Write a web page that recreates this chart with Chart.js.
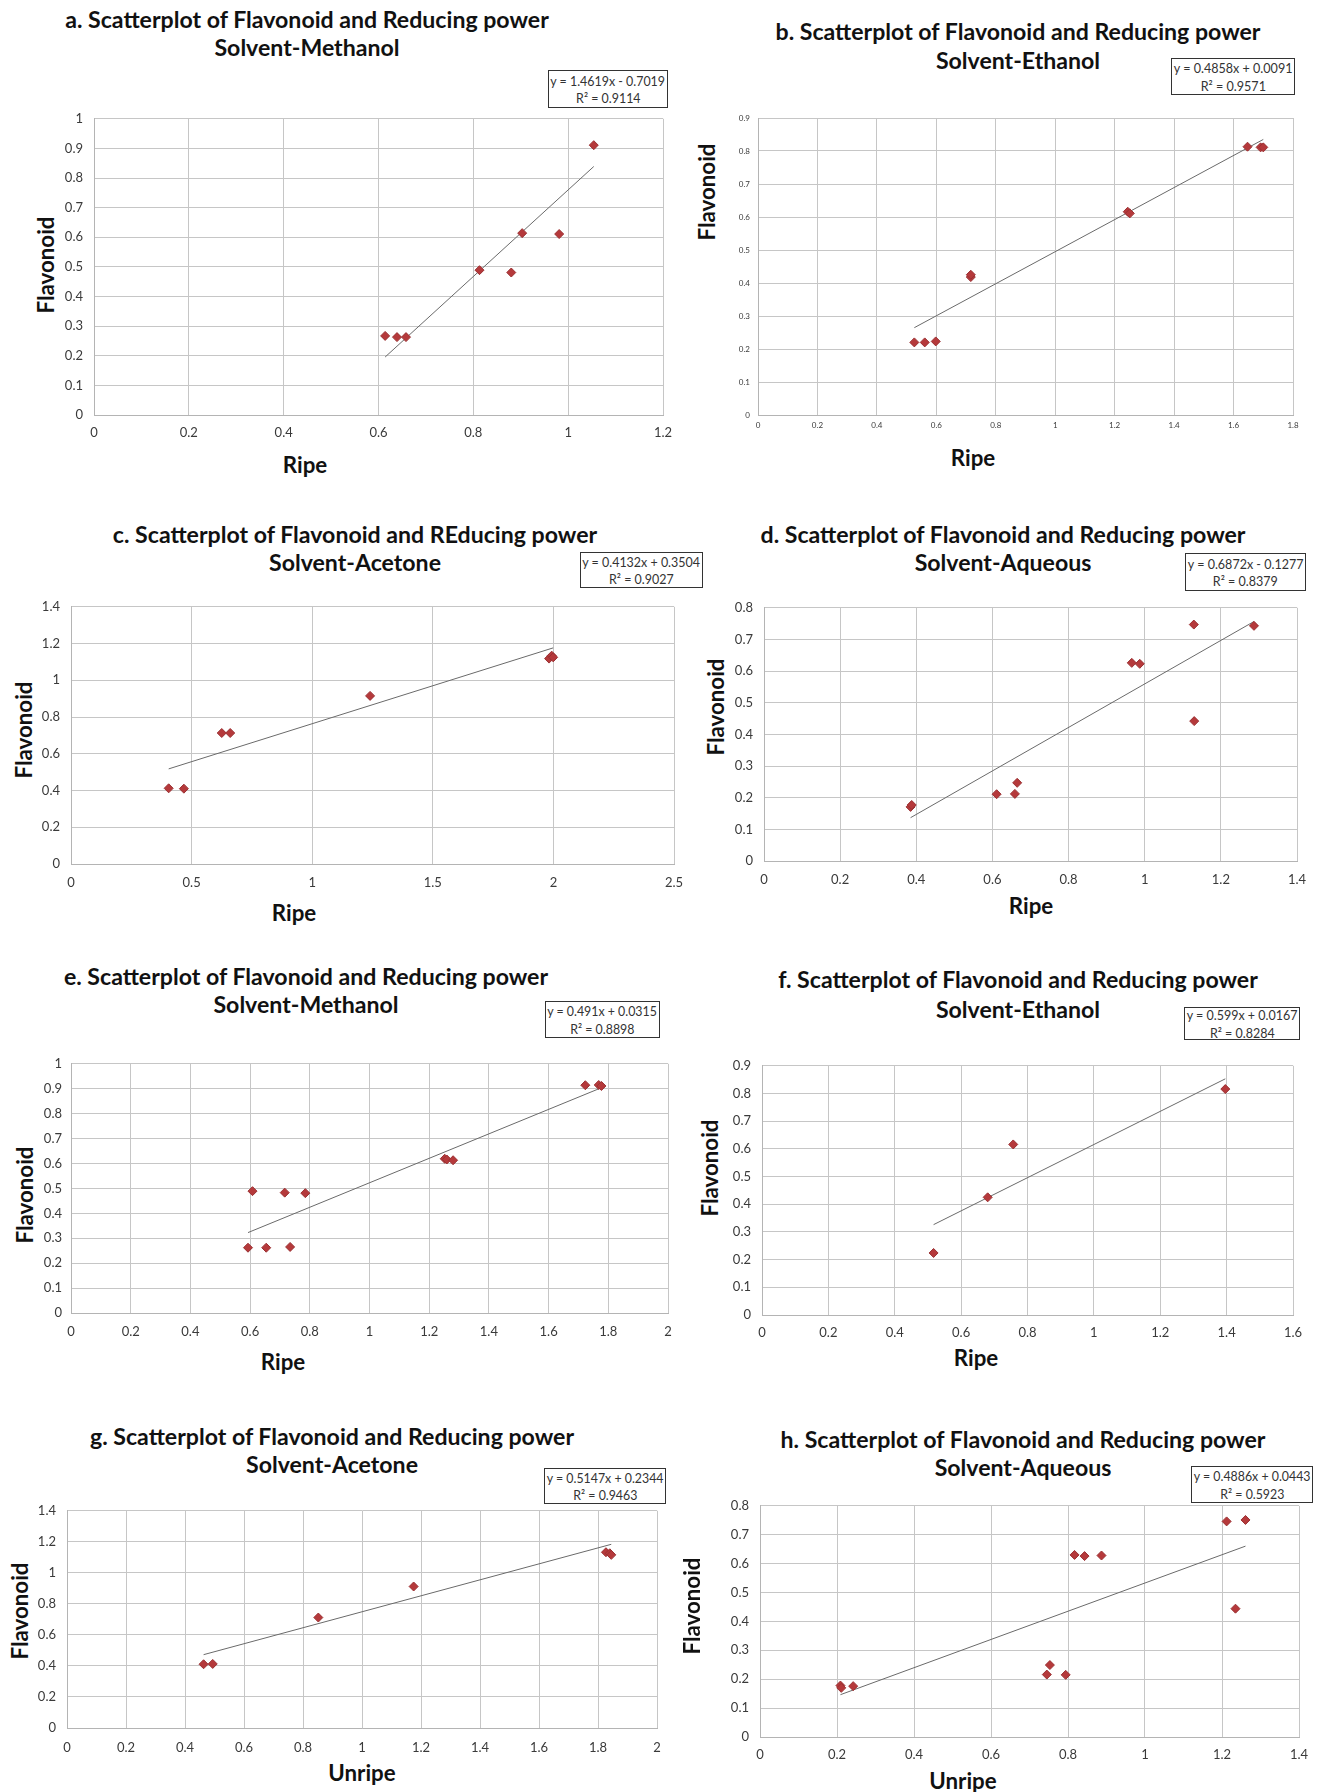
<!DOCTYPE html>
<html><head><meta charset="utf-8">
<script src="https://cdn.jsdelivr.net/npm/chart.js@4.4.1/dist/chart.umd.min.js"></script>
<style>
html,body{margin:0;padding:0;background:#fff;}
body{width:1322px;height:1792px;position:relative;overflow:hidden;font-family:Lato,'Open Sans',sans-serif;}
canvas{position:absolute;}
.t{position:absolute;white-space:nowrap;font-weight:bold;color:#111;line-height:1;}
.yt{position:absolute;white-space:nowrap;font-weight:bold;color:#111;line-height:1;}
.eq{position:absolute;box-sizing:border-box;border:1.5px solid #333;background:#fff;color:#333;text-align:center;display:flex;flex-direction:column;justify-content:center;align-items:center;}
.eq div{white-space:nowrap;line-height:1.22;}
</style></head>
<body>
<script>
// ---------- data ----------
const aX = [0.614,0.639,0.658,0.813,0.880,0.903,0.981,1.054];
const aY = [0.267,0.263,0.263,0.489,0.481,0.614,0.611,0.911];
const bX = [0.526,0.561,0.598,0.716,0.716,1.244,1.251,1.647,1.691,1.700];
const bY = [0.220,0.220,0.223,0.418,0.425,0.616,0.611,0.813,0.811,0.811];
const cX = [0.405,0.468,0.625,0.660,1.240,1.982,1.993,1.999];
const cY = [0.412,0.410,0.713,0.713,0.915,1.118,1.134,1.125];
const dX = [0.385,0.388,0.611,0.659,0.665,0.966,0.987,1.129,1.130,1.287];
const dY = [0.171,0.177,0.211,0.212,0.247,0.626,0.623,0.747,0.442,0.743];
const eX = [0.593,0.608,0.654,0.716,0.734,0.785,1.252,1.259,1.280,1.723,1.768,1.777];
const eY = [0.262,0.489,0.262,0.483,0.265,0.481,0.619,0.616,0.613,0.914,0.915,0.911];
const fX = [0.517,0.680,0.757,1.396];
const fY = [0.224,0.425,0.616,0.816];
const gX = [0.463,0.494,0.852,1.175,1.827,1.840,1.845];
const gY = [0.411,0.413,0.712,0.912,1.133,1.126,1.116];
const hX = [0.209,0.211,0.242,0.745,0.753,0.794,0.817,0.843,0.887,1.212,1.235,1.261];
const hY = [0.178,0.170,0.176,0.216,0.249,0.215,0.630,0.626,0.628,0.746,0.444,0.751];

const titleLine1 = [
  "a. Scatterplot of Flavonoid and Reducing power",
  "b. Scatterplot of Flavonoid and Reducing power",
  "c. Scatterplot of Flavonoid and REducing power",
  "d. Scatterplot of Flavonoid and Reducing power",
  "e. Scatterplot of Flavonoid and Reducing power",
  "f. Scatterplot of Flavonoid and Reducing power",
  "g. Scatterplot of Flavonoid and Reducing power",
  "h. Scatterplot of Flavonoid and Reducing power"];
const titleLine2 = ["Solvent-Methanol","Solvent-Ethanol","Solvent-Acetone","Solvent-Aqueous",
  "Solvent-Methanol","Solvent-Ethanol","Solvent-Acetone","Solvent-Aqueous"];
const xTitles = ["Ripe","Ripe","Ripe","Ripe","Ripe","Ripe","Unripe","Unripe"];
const yTitle = "Flavonoid";
const slopes = [1.4619,0.4858,0.4132,0.6872,0.491,0.599,0.5147,0.4886];
const intercepts = [-0.7019,0.0091,0.3504,-0.1277,0.0315,0.0167,0.2344,0.0443];
const r2 = ["0.9114","0.9571","0.9027","0.8379","0.8898","0.8284","0.9463","0.5923"];
const xMax = [1.2,1.8,2.5,1.4,2,1.6,2,1.4];
const xStep = [0.2,0.2,0.5,0.2,0.2,0.2,0.2,0.2];
const yMax = [1,0.9,1.4,0.8,1,0.9,1.4,0.8];
const yStep = [0.1,0.1,0.2,0.1,0.1,0.1,0.2,0.1];

const seriesX = [aX,bX,cX,dX,eX,fX,gX,hX];
const seriesY = [aY,bY,cY,dY,eY,fY,gY,hY];

// ---------- layout (pixels) ----------
const plots = [
  {l:94,t:115,r:663,b:415},{l:758,t:118,r:1293,b:415},
  {l:71,t:603,r:674,b:864},{l:764,t:604,r:1297,b:861},
  {l:71,t:1062,r:668,b:1313},{l:762,t:1062,r:1293,b:1315},
  {l:67,t:1507,r:657,b:1728},{l:760,t:1502,r:1299,b:1737}];
const titlePos = [[307,20,48],[1018,32,61],[355,535,563],[1003,535,563],
  [306,977,1005],[1018,980,1010],[332,1437,1465],[1023,1440,1468]];
const eqBox = [[548,70,668,108],[1171,58,1295,95],[580,552,703,588],[1185,553,1306,591],
  [545,1001,660,1038],[1184,1007,1300,1040],[544,1468,666,1504],[1191,1466,1313,1503]];
const yTitlePos = [[46,265],[707,192],[24,730],[716,707],[25,1195],[710,1168],[20,1611],[692,1606]];
const xTitlePos = [[305,465],[973,458],[294,913],[1031,906],[283,1362],[976,1358],[362,1773],[963,1781]];
const tickFont = [13,8,13,13,13,13,13,13];
const xTickPad = [10,6,11,11,11,10,12,10];
const yTickPad = [11,8,11,11,9,11,11,11];

const meas = document.createElement('canvas').getContext('2d');
const FAM = "Lato, 'Open Sans', sans-serif";
function textW(text, weight, size){
  meas.font = weight + ' ' + size + 'px ' + FAM;
  return meas.measureText(text).width;
}
const TITLE_SIZE = 22, AXIS_SIZE = 22, EQ_SIZE = 14;
const titleScale = 484 / textW(titleLine1[0], 'bold', TITLE_SIZE);
const axisScale = 97 / textW(yTitle, 'bold', AXIS_SIZE);

function fmt(v){ return String(Number(v.toFixed(4))); }
function eqText(i){
  const s = slopes[i], c = intercepts[i];
  return 'y = ' + fmt(s) + 'x ' + (c < 0 ? '- ' : '+ ') + fmt(Math.abs(c));
}

function addDiv(cls, text, x, y, size, tf){
  const d = document.createElement('div');
  d.className = cls; d.textContent = text;
  d.style.left = x + 'px'; d.style.top = y + 'px'; d.style.fontSize = size + 'px';
  d.style.transform = tf;
  document.body.appendChild(d); return d;
}

const YW = 60, XH = 40, PT = 15, PR = 25;

for (let i = 0; i < 8; i++){
  const p = plots[i];
  addDiv('t', titleLine1[i], titlePos[i][0], titlePos[i][1], TITLE_SIZE, 'translate(-50%,-50%) scaleX(' + titleScale + ')');
  addDiv('t', titleLine2[i], titlePos[i][0], titlePos[i][2], TITLE_SIZE, 'translate(-50%,-50%) scaleX(' + titleScale + ')');
  addDiv('t', xTitles[i], xTitlePos[i][0], xTitlePos[i][1], AXIS_SIZE, 'translate(-50%,-50%) scaleX(' + axisScale + ')');
  addDiv('yt', yTitle, yTitlePos[i][0], yTitlePos[i][1], AXIS_SIZE, 'translate(-50%,-50%) rotate(-90deg) scaleX(' + axisScale + ')');

  const cv = document.createElement('canvas');
  const W = (p.r - p.l) + YW + PR, H = (p.b - p.t) + PT + XH;
  cv.width = W; cv.height = H;
  cv.style.left = (p.l - YW) + 'px'; cv.style.top = (p.t - PT) + 'px';
  cv.style.width = W + 'px'; cv.style.height = H + 'px';
  document.body.appendChild(cv);

  const xs = seriesX[i], ys = seriesY[i];
  const pts = xs.map((x, k) => ({x: x, y: ys[k]}));
  const x0 = Math.min(...xs), x1 = Math.max(...xs);
  const trend = [{x: x0, y: slopes[i]*x0 + intercepts[i]}, {x: x1, y: slopes[i]*x1 + intercepts[i]}];
  const tf = {family: FAM, size: tickFont[i]};

  new Chart(cv, {
    type: 'scatter',
    data: {datasets: [
      {type: 'line', data: trend, borderColor: '#6a6a6a', borderWidth: 1, pointRadius: 0, fill: false, order: 2},
      {data: pts, pointStyle: 'rectRot', pointRadius: 4.5, backgroundColor: '#b5393b', borderColor: '#9a3032', borderWidth: 1, order: 1}
    ]},
    options: {
      responsive: false, animation: false, devicePixelRatio: 1,
      plugins: {legend: {display: false}, tooltip: {enabled: false}, title: {display: false}},
      layout: {padding: {top: PT, right: PR, left: 0, bottom: 0}},
      scales: {
        x: {type: 'linear', min: 0, max: xMax[i],
            ticks: {stepSize: xStep[i], font: tf, color: '#3a3a3a', padding: xTickPad[i], maxRotation: 0, autoSkip: false, callback: v => fmt(v)},
            grid: {color: '#c6c6c6', drawTicks: false, lineWidth: 1},
            border: {color: '#b4b4b4', width: 1},
            afterFit: s => { s.height = XH; }},
        y: {type: 'linear', min: 0, max: yMax[i],
            ticks: {stepSize: yStep[i], font: tf, color: '#3a3a3a', padding: yTickPad[i], autoSkip: false, callback: v => fmt(v)},
            grid: {color: '#c6c6c6', drawTicks: false, lineWidth: 1},
            border: {color: '#b4b4b4', width: 1},
            afterFit: s => { s.width = YW; }}
      }
    }
  });

  // equation box
  const e = eqBox[i];
  const box = document.createElement('div');
  box.className = 'eq';
  box.style.left = e[0] + 'px'; box.style.top = e[1] + 'px';
  box.style.width = (e[2] - e[0]) + 'px'; box.style.height = (e[3] - e[1]) + 'px';
  box.style.fontSize = EQ_SIZE + 'px';
  const l1 = eqText(i), l2 = 'R² = ' + r2[i];
  const sc = Math.min(1, ((e[2] - e[0]) - 5) / textW(l1, 'normal', EQ_SIZE));
  const d1 = document.createElement('div'); d1.textContent = l1; d1.style.transform = 'scaleX(' + sc + ')';
  const d2 = document.createElement('div'); d2.textContent = l2; d2.style.transform = 'scaleX(' + sc + ')';
  box.appendChild(d1); box.appendChild(d2);
  document.body.appendChild(box);
}
</script>
</body></html>
